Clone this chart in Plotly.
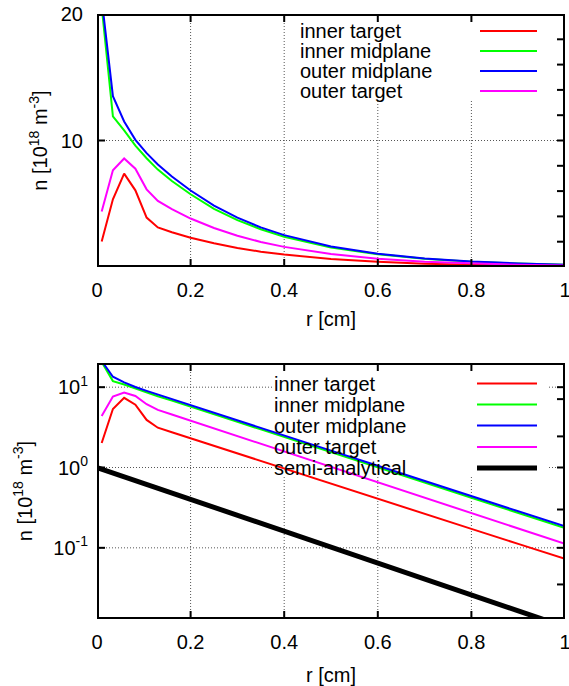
import math
import plotly.graph_objects as go

# ---------------- data ----------------
r = [0.01, 0.034, 0.058, 0.082, 0.106, 0.13, 0.16, 0.2, 0.25, 0.3, 0.35, 0.4,
     0.5, 0.6, 0.7, 0.8, 0.9, 1.0]
inner_target = [2.02, 5.35, 7.38, 6.06, 3.91, 3.13, 2.75, 2.31, 1.87, 1.51, 1.21, 0.98,
                0.635, 0.41, 0.265, 0.172, 0.112, 0.073]
inner_midplane = [20.6, 11.9, 10.8, 9.6, 8.6, 7.7, 6.8, 5.75, 4.6, 3.7, 2.98, 2.39,
                  1.54, 1.0, 0.65, 0.42, 0.272, 0.176]
outer_midplane = [21.2, 13.5, 11.5, 10.05, 9.0, 8.1, 7.15, 6.05, 4.85, 3.9, 3.13, 2.52,
                  1.62, 1.05, 0.68, 0.44, 0.285, 0.185]
outer_target = [4.39, 7.64, 8.58, 7.77, 6.14, 5.22, 4.57, 3.83, 3.08, 2.47, 1.98, 1.59,
                1.02, 0.657, 0.423, 0.272, 0.175, 0.112]
r_semi = [0.0, 0.2, 0.4, 0.6, 0.8, 1.0]
semi_analytical = [1.0, 0.40, 0.16, 0.064, 0.026, 0.0104]

series_names = ["inner target", "inner midplane", "outer midplane", "outer target"]
series_colors = ["#ff0000", "#00ff00", "#0000ff", "#ff00ff"]
series_values = [inner_target, inner_midplane, outer_midplane, outer_target]

x_ticks = [0, 0.2, 0.4, 0.6, 0.8, 1.0]
x_ticktext = ["0", "0.2", "0.4", "0.6", "0.8", "1"]
top_y_ticks = [10, 20]
top_y_grid = [10]
top_y_right = [2, 4, 6, 8, 10, 12, 14, 16, 18]
log_y_ticks = [0.1, 1, 10]
log_y_ticktext = ["10<sup>-1</sup>", "10<sup>0</sup>", "10<sup>1</sup>"]
log_y_right = [10, 7.1, 2.44, 1, 0.3, 0.1, 0.035]

# ---------------- layout helpers ----------------
W, H = 569, 686
L, R, T, B = 97, 4, 14, 67
PW, PH = W - L - R, H - T - B


def px(x):
    return (x - L) / PW


def py(y):
    return (H - B - y) / PH


FONT = "Liberation Sans"
FS = 20
TICKPX = 8

TOP_RANGE = [0, 20]
LOG_RANGE = [-1.886, 1.301]
top_dom = [py(267), 1.0]
bot_dom = [0.0, py(363)]


def top_y(v):
    return top_dom[0] + (v - TOP_RANGE[0]) / (TOP_RANGE[1] - TOP_RANGE[0]) * (top_dom[1] - top_dom[0])


def bot_y(v):
    return bot_dom[0] + (math.log10(v) - LOG_RANGE[0]) / (LOG_RANGE[1] - LOG_RANGE[0]) * (bot_dom[1] - bot_dom[0])


fig = go.Figure()

for name, col, vals in zip(series_names, series_colors, series_values):
    fig.add_trace(go.Scatter(x=r, y=vals, mode="lines", name=name,
                             line=dict(color=col, width=2), xaxis="x", yaxis="y",
                             showlegend=False))
for name, col, vals in zip(series_names, series_colors, series_values):
    fig.add_trace(go.Scatter(x=r, y=vals, mode="lines", name=name,
                             line=dict(color=col, width=2), xaxis="x2", yaxis="y2",
                             showlegend=False))
fig.add_trace(go.Scatter(x=r_semi, y=semi_analytical, mode="lines", name="semi-analytical",
                         line=dict(color="black", width=5), xaxis="x2", yaxis="y2",
                         showlegend=False))

# ---------- panel frames and tick marks (drawn as line traces on each subplot) ----------
dx = TICKPX / PW  # tick length along x in data units (x range is 0..1)


def frame_and_ticks(xa, ya, ylo, yhi, ystep_up, ystep_down, left_vals, right_vals):
    # frame (clipped to plot area, so half of the 4px width stays visible)
    fig.add_trace(go.Scatter(x=[0, 1, 1, 0, 0], y=[ylo, ylo, yhi, yhi, ylo], mode="lines",
                             line=dict(color="black", width=4), xaxis=xa, yaxis=ya,
                             hoverinfo="skip", showlegend=False))
    tx, ty = [], []
    for xv in x_ticks[1:-1]:
        tx += [xv, xv, None, xv, xv, None]
        ty += [ylo, ystep_up(ylo), None, yhi, ystep_down(yhi), None]
    for v in left_vals:
        tx += [0, dx, None]
        ty += [v, v, None]
    for v in right_vals:
        tx += [1 - dx, 1, None]
        ty += [v, v, None]
    fig.add_trace(go.Scatter(x=tx, y=ty, mode="lines", connectgaps=False,
                             line=dict(color="black", width=2), xaxis=xa, yaxis=ya,
                             hoverinfo="skip", showlegend=False))


top_h_px = (top_dom[1] - top_dom[0]) * PH
bot_h_px = (bot_dom[1] - bot_dom[0]) * PH
lin_dy = TICKPX / top_h_px * (TOP_RANGE[1] - TOP_RANGE[0])
log_fac = 10 ** (TICKPX / bot_h_px * (LOG_RANGE[1] - LOG_RANGE[0]))

frame_and_ticks("x", "y", TOP_RANGE[0], TOP_RANGE[1],
                lambda v: v + lin_dy, lambda v: v - lin_dy, top_y_ticks, top_y_right)
frame_and_ticks("x2", "y2", 10 ** LOG_RANGE[0], 10 ** LOG_RANGE[1],
                lambda v: v * log_fac, lambda v: v / log_fac, log_y_ticks, log_y_right)


def axbase(standoff):
    return dict(showline=False, zeroline=False, showgrid=False, ticks="", automargin=False,
                ticklabelstandoff=standoff,
                tickfont=dict(family=FONT, size=FS, color="black"))


def xax(anchor, standoff):
    d = dict(domain=[0, 1], anchor=anchor, range=[0, 1], tickvals=x_ticks,
             ticktext=x_ticktext, ticklabeloverflow="allow",
             title=dict(text="r [cm]", font=dict(family=FONT, size=FS, color="black"),
                        standoff=standoff))
    d.update(axbase(9))
    return d


ytitle = "n [10<sup>18</sup> m<sup>-3</sup>]"
yax1 = dict(domain=top_dom, anchor="x", range=TOP_RANGE, tickvals=top_y_ticks,
            title=dict(text=ytitle, font=dict(family=FONT, size=FS, color="black"),
                       standoff=7))
yax1.update(axbase(13))
yax2 = dict(domain=bot_dom, anchor="x2", type="log", range=LOG_RANGE,
            tickvals=log_y_ticks, ticktext=log_y_ticktext,
            title=dict(text=ytitle, font=dict(family=FONT, size=FS, color="black"),
                       standoff=15))
yax2.update(axbase(8))

fig.update_layout(
    width=W, height=H,
    margin=dict(l=L, r=R, t=T, b=B, autoexpand=False),
    paper_bgcolor="white", plot_bgcolor="rgba(0,0,0,0)",
    font=dict(family=FONT, size=FS, color="black"),
    xaxis=xax("y", 11), xaxis2=xax("y2", 16),
    yaxis=yax1, yaxis2=yax2,
)

shapes = []


def grd():
    return dict(color="#555555", width=1, dash="1px,2px")


def grid_panel(dom, yfun, yvals, box):
    """dotted grid lines, interrupted by the key box (pixel box: x0, x1, y0, y1)"""
    bx0, bx1, by0, by1 = box
    for xv in x_ticks[1:-1]:
        xpix = L + xv * PW
        ytop = dom[1]
        if bx0 <= xpix <= bx1:
            ytop = py(by1)
        shapes.append(dict(type="line", xref="paper", yref="paper", x0=xv, x1=xv,
                           y0=dom[0], y1=ytop, line=grd(), layer="below"))
    for v in yvals:
        yy = yfun(v)
        ypix = H - B - yy * PH
        if by0 <= ypix <= by1:
            segs = [(0, px(bx0)), (px(bx1), 1)]
        else:
            segs = [(0, 1)]
        for a, b in segs:
            shapes.append(dict(type="line", xref="paper", yref="paper", x0=a, x1=b,
                               y0=yy, y1=yy, line=grd(), layer="below"))


grid_panel(top_dom, top_y, top_y_grid, (288, 560, 14, 100))
grid_panel(bot_dom, bot_y, log_y_ticks, (272, 549, 363, 477))

annotations = []
# top key
top_rows = [31, 51, 71, 91]
for name, col, yy in zip(series_names, series_colors, top_rows):
    annotations.append(dict(text=name, xref="paper", yref="paper", x=px(298), y=py(yy),
                            xanchor="left", yanchor="middle", showarrow=False,
                            font=dict(family=FONT, size=FS, color="black")))
    shapes.append(dict(type="line", xref="paper", yref="paper", x0=px(480), x1=px(537),
                       y0=py(yy), y1=py(yy), line=dict(color=col, width=2)))
# bottom key
bot_rows = [383.5, 404.5, 425.5, 447, 468]
bot_names = series_names + ["semi-analytical"]
bot_colors = series_colors + ["black"]
bot_widths = [2, 2, 2, 2, 5]
for name, col, wdt, yy in zip(bot_names, bot_colors, bot_widths, bot_rows):
    annotations.append(dict(text=name, xref="paper", yref="paper", x=px(272), y=py(yy),
                            xanchor="left", yanchor="middle", showarrow=False,
                            font=dict(family=FONT, size=FS, color="black")))
    shapes.append(dict(type="line", xref="paper", yref="paper", x0=px(477), x1=px(537),
                       y0=py(yy), y1=py(yy), line=dict(color=col, width=wdt)))

fig.update_layout(shapes=shapes, annotations=annotations)

fig.write_html("out.html", config={"displayModeBar": False},
               post_script="document.body.style.margin='0';")
